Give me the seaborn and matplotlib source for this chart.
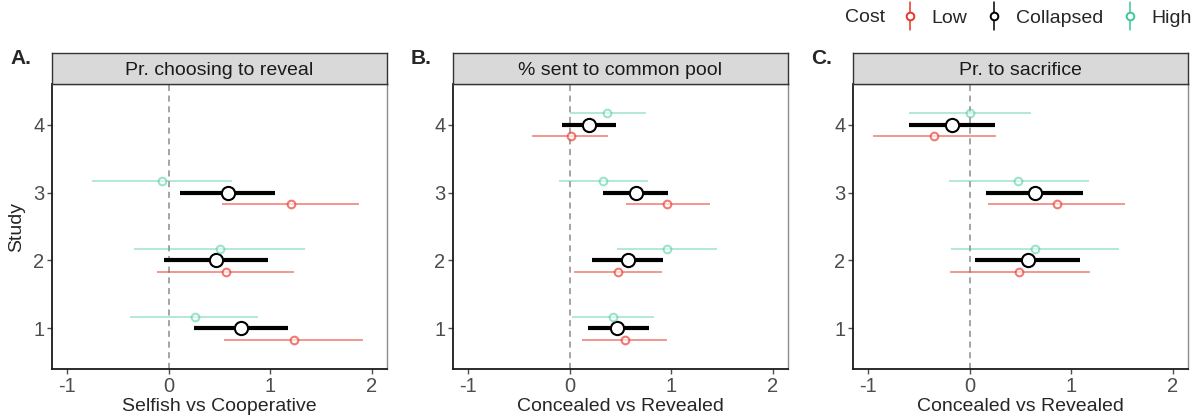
import matplotlib
matplotlib.use('Agg')
import matplotlib.pyplot as plt
from matplotlib.legend_handler import HandlerBase
import pandas as pd
import seaborn as sns

# estimates per study 1..4 as (estimate, lower, upper); None = not run
studies = [1, 2, 3, 4]
costs = ['Low', 'Collapsed', 'High']

reveal_low = [(1.23, 0.54, 1.91), (0.56, -0.12, 1.23), (1.20, 0.52, 1.87), None]
reveal_collapsed = [(0.71, 0.25, 1.17), (0.47, -0.05, 0.98), (0.58, 0.11, 1.05), None]
reveal_high = [(0.26, -0.38, 0.88), (0.50, -0.34, 1.34), (-0.07, -0.76, 0.62), None]

pool_low = [(0.54, 0.12, 0.96), (0.48, 0.04, 0.91), (0.96, 0.55, 1.38), (0.01, -0.37, 0.38)]
pool_collapsed = [(0.47, 0.18, 0.78), (0.57, 0.22, 0.92), (0.65, 0.33, 0.97), (0.19, -0.08, 0.46)]
pool_high = [(0.43, 0.02, 0.83), (0.96, 0.47, 1.45), (0.33, -0.11, 0.77), (0.37, 0.00, 0.75)]

sacrifice_low = [None, (0.49, -0.19, 1.18), (0.86, 0.18, 1.53), (-0.35, -0.95, 0.26)]
sacrifice_collapsed = [None, (0.57, 0.05, 1.09), (0.64, 0.16, 1.12), (-0.17, -0.60, 0.25)]
sacrifice_high = [None, (0.64, -0.18, 1.47), (0.48, -0.20, 1.17), (0.00, -0.60, 0.60)]

panel_titles = ['Pr. choosing to reveal', '% sent to common pool', 'Pr. to sacrifice']
panel_tags = ['A.', 'B.', 'C.']
x_titles = ['Selfish vs Cooperative', 'Concealed vs Revealed', 'Concealed vs Revealed']
x_ticks = [-1, 0, 1, 2]


def to_frame(low, collapsed, high):
    rows = []
    for cost, vals in zip(costs, [low, collapsed, high]):
        for s, v in zip(studies, vals):
            if v is not None:
                rows.append({'study': s, 'cost': cost, 'est': v[0], 'lo': v[1], 'hi': v[2]})
    return pd.DataFrame(rows)


frames = [to_frame(reveal_low, reveal_collapsed, reveal_high),
          to_frame(pool_low, pool_collapsed, pool_high),
          to_frame(sacrifice_low, sacrifice_collapsed, sacrifice_high)]

sns.set_theme(style='white')
plt.rcParams['font.family'] = ['Liberation Sans', 'DejaVu Sans']

palette = {'Low': '#E8352B', 'Collapsed': 'black', 'High': '#3CC79B'}
offset = {'Low': -1 / 6, 'Collapsed': 0.0, 'High': 1 / 6}
line_w = {'Low': 1.1, 'Collapsed': 3.0, 'High': 1.1}
mk_size = {'Low': 5.5, 'Collapsed': 9.5, 'High': 5.5}
alpha = {'Low': 0.65, 'Collapsed': 1.0, 'High': 0.5}


class PointRangeKey(HandlerBase):
    # ggplot-style legend key: open point with a vertical range line
    def create_artists(self, legend, orig, xd, yd, width, height, fontsize, trans):
        c = orig.get_color()
        cx = xd + width / 2
        cy = yd + height / 2
        vline = plt.Line2D([cx, cx], [cy - 10, cy + 10], color=c, lw=1.1, transform=trans)
        dot = plt.Line2D([cx], [cy], marker='o', mfc='white', mec=c, mew=1.4, ms=5.5,
                         linestyle='', transform=trans)
        return [vline, dot]


fig = plt.figure(figsize=(12.02, 4.17), dpi=100)
W, H = 1202, 417
lefts = [52, 453, 853]
ax_w, ax_top, ax_bot, strip_h = 335, 84, 369, 31

for i, df in enumerate(frames):
    ax = fig.add_axes([lefts[i] / W, (H - ax_bot) / H, ax_w / W, (ax_bot - ax_top) / H])
    ax.axvline(0, color='#8C8C8C', linestyle=(0, (4, 3)), linewidth=1.1, zorder=1)
    for cost in costs:
        d = df[df['cost'] == cost]
        y = d['study'] + offset[cost]
        ax.hlines(y, d['lo'], d['hi'], color=palette[cost], linewidth=line_w[cost],
                  alpha=alpha[cost], zorder=2)
        ax.plot(d['est'], y, 'o', mfc='white', mec=palette[cost], mew=1.5,
                ms=mk_size[cost], alpha=alpha[cost], zorder=3)
    ax.set_xlim(-1.15, 2.15)
    ax.set_ylim(0.4, 4.6)
    ax.set_xticks(x_ticks)
    ax.set_xticklabels(['-1', '0', '1', '2'])
    ax.set_yticks(studies)
    ax.tick_params(axis='both', length=3.5, width=1, color='#4D4D4D', labelsize=14.5,
                   labelcolor='#4D4D4D', bottom=True, left=True, pad=2)
    for side in ['top', 'right']:
        ax.spines[side].set_color('#8C8C8C')
        ax.spines[side].set_linewidth(1)
    for side in ['left', 'bottom']:
        ax.spines[side].set_color('#1A1A1A')
        ax.spines[side].set_linewidth(1.3)
    ax.set_xlabel(x_titles[i], fontsize=14, labelpad=2)
    ax.set_ylabel('Study' if i == 0 else '', fontsize=14, labelpad=6)

    sax = fig.add_axes([lefts[i] / W, (H - ax_top) / H, ax_w / W, strip_h / H])
    sax.set_facecolor('#D9D9D9')
    sax.set_xticks([])
    sax.set_yticks([])
    for sp in sax.spines.values():
        sp.set_color('#333333')
        sp.set_linewidth(1)
    sax.text(0.5, 0.45, panel_titles[i], ha='center', va='center', fontsize=14,
             color='#1A1A1A', transform=sax.transAxes)
    fig.text((lefts[i] - 42) / W, (H - 58) / H, panel_tags[i], fontsize=15,
             fontweight='bold', va='center', ha='left')

# legend
handles = [plt.Line2D([], [], color=palette[c]) for c in costs]
fig.text(845 / W, (H - 18) / H, 'Cost', fontsize=14, va='center', ha='left')
fig.legend(handles, costs, loc='center left', bbox_to_anchor=(900 / W, (H - 18) / H),
           ncol=3, frameon=False, fontsize=14, handlelength=1.0, handletextpad=0.6,
           columnspacing=0.9, borderaxespad=0, borderpad=0,
           handler_map={plt.Line2D: PointRangeKey()})

fig.savefig('out.png', dpi=100)
